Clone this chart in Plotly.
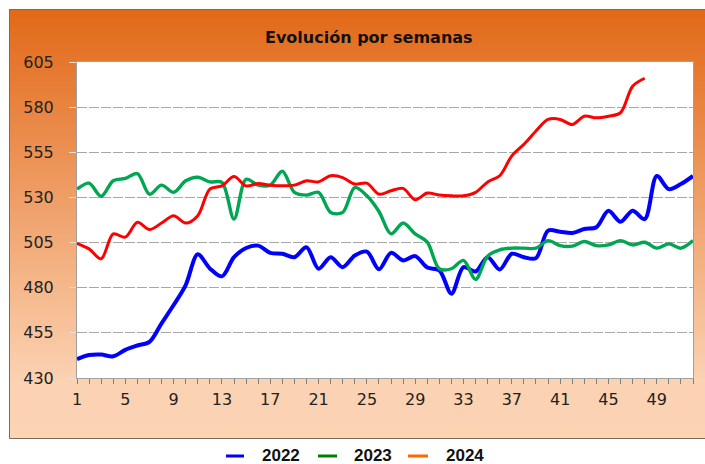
import plotly.graph_objects as go

# Weekly series
weeks = list(range(1, 53))

y2022 = [440.5, 442.7, 443.0, 442.0, 445.6, 448.0, 450.0, 460.3, 470.4, 481.5,
         498.5, 490.7, 486.3, 496.9, 502.0, 503.3, 499.3, 498.8, 496.9, 502.4,
         490.5, 496.9, 491.4, 497.8, 500.0, 490.2, 499.3, 495.1, 497.5, 491.2,
         489.6, 476.7, 491.4, 489.0, 496.9, 490.1, 498.8, 496.9, 496.4, 511.6,
         511.0, 510.3, 512.5, 513.5, 522.6, 516.5, 522.6, 518.0, 541.9, 534.6,
         537.4, 541.9]

y2023 = [534.6, 537.9, 530.6, 539.2, 540.5, 543.2, 531.8, 536.8, 532.8, 539.2,
         541.2, 538.6, 538.3, 518.0, 540.1, 536.8, 536.8, 544.5, 532.8, 531.3,
         532.8, 521.7, 521.7, 535.5, 530.9, 522.2, 509.8, 515.8, 509.8, 505.2,
         490.5, 490.5, 495.1, 484.6, 497.5, 501.0, 501.9, 501.9, 501.9, 506.1,
         503.3, 503.0, 505.6, 503.3, 503.7, 506.1, 503.7, 505.2, 501.9, 504.3,
         501.9, 506.1]

y2024 = [504.6, 501.5, 496.0, 509.8, 508.0, 516.2, 512.2, 515.8, 519.9, 515.8,
         519.9, 534.6, 536.4, 541.6, 536.4, 537.7, 536.8, 536.4, 536.8, 539.2,
         538.6, 542.0, 541.0, 537.4, 537.9, 531.8, 533.7, 535.0, 528.7, 532.4,
         531.3, 530.9, 530.9, 532.8, 538.6, 542.0, 553.0, 559.4, 566.8, 573.2,
         573.2, 570.4, 575.0, 574.1, 575.0, 576.9, 591.6, 596.0]

series = [
    ("2022", y2022, "#0000FF", 4.0, "#0000FF"),
    ("2023", y2023, "#00A651", 3.4, "#008000"),
    ("2024", y2024, "#FF0000", 3.0, "#FF6600"),
]

x_ticks = list(range(1, 53, 4))
y_ticks = [430, 455, 480, 505, 530, 555, 580, 605]

W, H = 705, 464
L, R, T, B = 77, 12, 62, 86
PW, PH = W - L - R, H - T - B


def px_x(px):
    return (px - L) / PW


def px_y(py):
    return (H - B - py) / PH


fig = go.Figure()
for name, vals, color, width, _ in series:
    fig.add_trace(go.Scatter(
        x=weeks[:len(vals)], y=vals, name=name, mode="lines",
        line=dict(color=color, width=width, shape="spline", smoothing=0.9),
        showlegend=False,
    ))

# Vertical orange-to-peach gradient behind the chart frame
stops = [(9, (226, 105, 22)), (45, (228, 114, 38)),
         (380, (251, 210, 178)), (438, (251, 212, 181))]


def grad(py):
    for (a, ca), (b, cb) in zip(stops[:-1], stops[1:]):
        if a <= py <= b:
            t = (py - a) / (b - a)
            return "rgb(%d,%d,%d)" % tuple(round(ca[i] + (cb[i] - ca[i]) * t) for i in range(3))
    return "rgb(%d,%d,%d)" % stops[-1][1]


shapes = []
top, bot, step = 9, 438, 3
y0 = top
while y0 < bot:
    y1 = min(y0 + step, bot)
    shapes.append(dict(type="rect", xref="paper", yref="paper",
                       x0=px_x(9), x1=px_x(712), y0=px_y(y1 + 0.5), y1=px_y(y0),
                       fillcolor=grad((y0 + y1) / 2), line=dict(width=0), layer="below"))
    y0 = y1
# frame outline
shapes.append(dict(type="rect", xref="paper", yref="paper",
                   x0=px_x(9.5), x1=px_x(712), y0=px_y(438.5), y1=px_y(9.5),
                   fillcolor="rgba(0,0,0,0)", line=dict(color="#7d6b5a", width=1),
                   layer="below"))
# white plotting area
shapes.append(dict(type="rect", xref="paper", yref="paper", x0=0, x1=1, y0=0, y1=1,
                   fillcolor="white", line=dict(width=0), layer="below"))

# legend drawn as short line samples with bold labels
annotations = [dict(text="<b>Evolución por semanas</b>", xref="paper", yref="paper",
                    x=px_x(369), y=px_y(37), xanchor="center", yanchor="middle",
                    showarrow=False,
                    font=dict(family="DejaVu Sans", size=16, color="#111111"))]
leg_line = [(226, 244), (318, 337), (408, 428)]
leg_text = [260, 352, 444]
leg_y = 455
for (name, _, _, _, lcol), (a, b), tx in zip(series, leg_line, leg_text):
    shapes.append(dict(type="line", xref="paper", yref="paper",
                       x0=px_x(a), x1=px_x(b), y0=px_y(leg_y + 1), y1=px_y(leg_y + 1),
                       line=dict(color=lcol, width=3)))
    annotations.append(dict(text="<b>%s</b>" % name, xref="paper", yref="paper",
                            x=px_x(tx), y=px_y(leg_y), xanchor="left", yanchor="middle",
                            showarrow=False,
                            font=dict(family="Liberation Sans", size=17, color="#111111")))

fig.update_layout(
    width=W, height=H,
    margin=dict(l=L, r=R, t=T, b=B, pad=0),
    paper_bgcolor="white", plot_bgcolor="white",
    shapes=shapes, annotations=annotations,
    font=dict(family="DejaVu Sans", size=16, color="#222222"),
    xaxis=dict(range=[1, 52], tickmode="array", tickvals=x_ticks,
               ticktext=[str(v) for v in x_ticks],
               ticks="outside", ticklen=5, tickcolor="#808080", tickwidth=1,
               minor=dict(dtick=1, tick0=1, ticks="outside", ticklen=5,
                          tickcolor="#808080", showgrid=False),
               showgrid=False, zeroline=False,
               showline=True, mirror=True, linecolor="#A0A0A0", linewidth=1,
               tickfont=dict(family="DejaVu Sans", size=16, color="#222222"),
               ticklabelstandoff=2),
    yaxis=dict(range=[430, 605], tickmode="array", tickvals=y_ticks,
               ticks="outside", ticklen=7, tickcolor="#E8E0D8", tickwidth=1,
               showgrid=True, gridcolor="#A8A8A8", gridwidth=1, griddash="10px,2px",
               zeroline=False,
               showline=True, mirror=True, linecolor="#A0A0A0", linewidth=1,
               tickfont=dict(family="DejaVu Sans", size=16, color="#222222"),
               ticklabelstandoff=12),
)

fig.write_html("out.html")
